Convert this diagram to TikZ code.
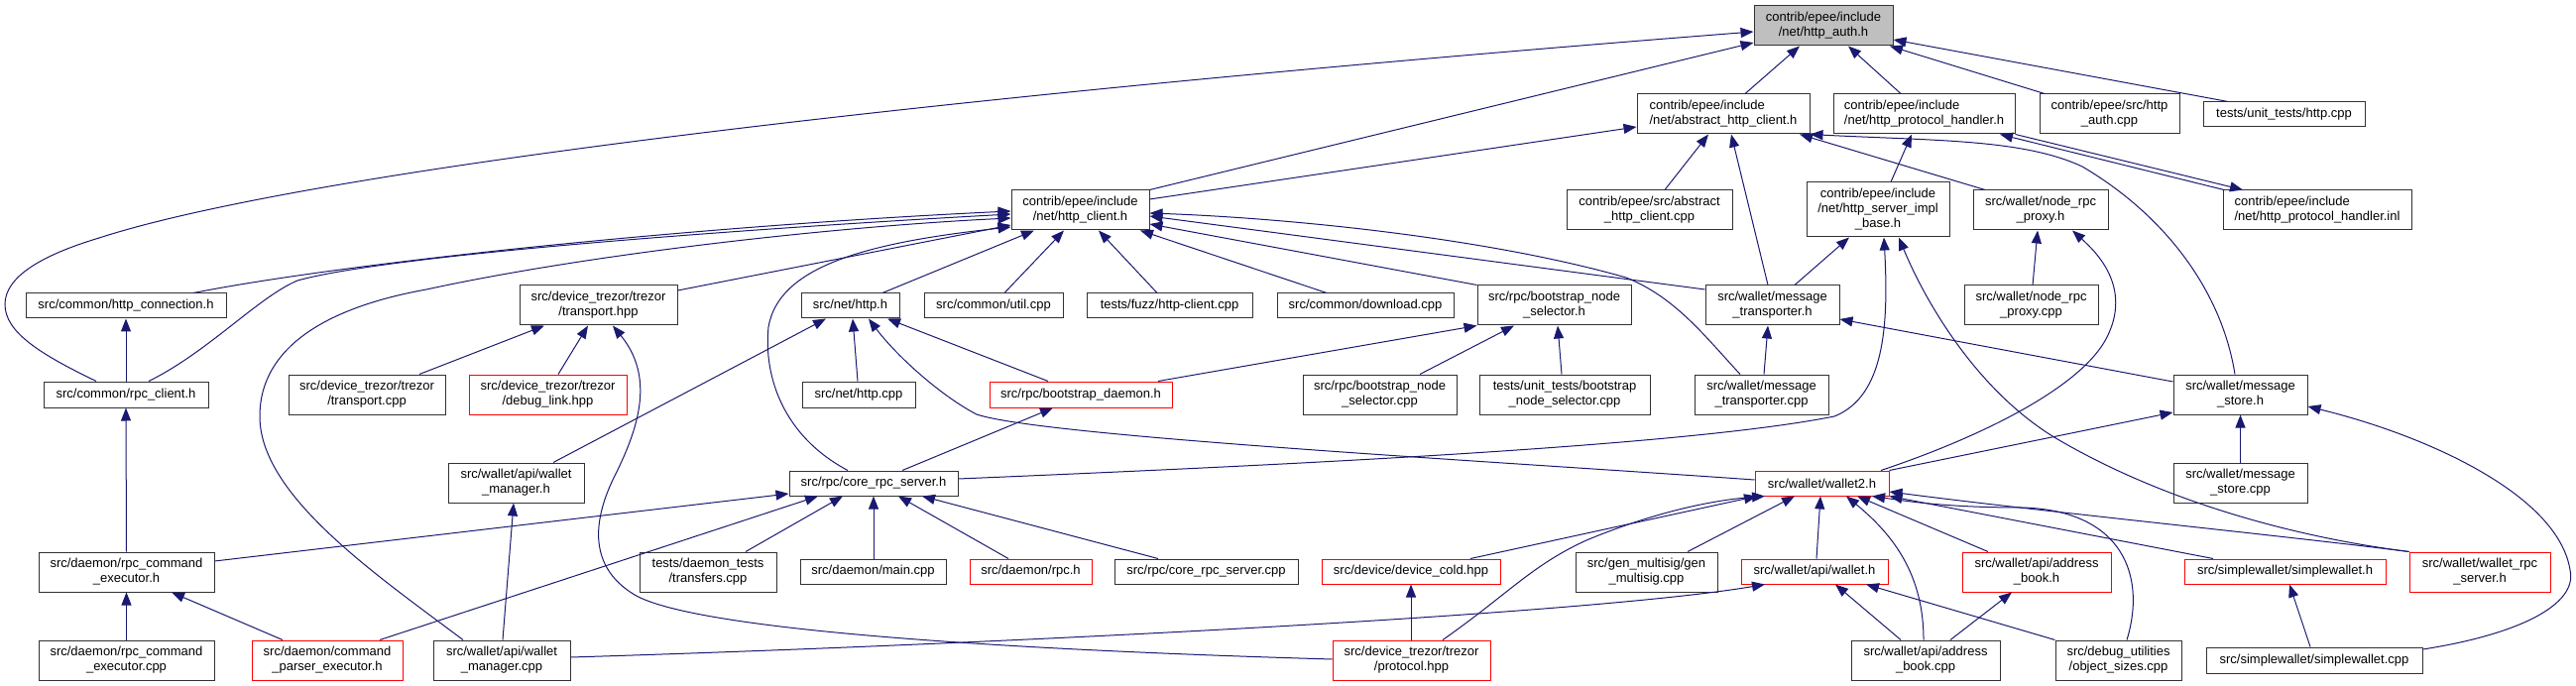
\documentclass[tikz,border=0pt]{standalone}
\usepackage{fontspec}
\setmainfont{Liberation Sans}
\usetikzlibrary{arrows.meta}
\definecolor{edgec}{RGB}{25,25,112}
\definecolor{boxc}{RGB}{50,50,50}
\definecolor{grey75}{RGB}{191,191,191}
\definecolor{redc}{RGB}{255,0,0}
\tikzset{
  box/.style={draw=boxc, fill=white, line width=1pt, rectangle, inner sep=0pt, align=center,
    font=\fontsize{13}{15}\selectfont},
  rbox/.style={box, draw=redc},
  dep/.style={draw=edgec, line width=1pt, -{Triangle[length=13pt,width=10pt]}},
}
\begin{document}
\begin{tikzpicture}[x=1pt,y=-1pt]
\useasboundingbox (0,0) rectangle (2598,692);
% row 0
\node[box, fill=grey75, minimum width=140pt, minimum height=40pt] (auth) at (1839,26) {contrib/epee/include\\/net/http\_auth.h};
% row 1
\node[box, align=left, minimum width=174pt, minimum height=40pt] (absh) at (1738,115) {contrib/epee/include\\/net/abstract\_http\_client.h};
\node[box, align=left, minimum width=183pt, minimum height=40pt] (phh) at (1940.5,115) {contrib/epee/include\\/net/http\_protocol\_handler.h};
\node[box, minimum width=141pt, minimum height=40pt] (authcpp) at (2127.5,115) {contrib/epee/src/http\\\_auth.cpp};
\node[box, minimum width=163pt, minimum height=25pt] (uthttp) at (2303.5,115.5) {tests/unit\_tests/http.cpp};
% row 2
\node[box, minimum width=139pt, minimum height=40pt] (hc) at (1089.5,212) {contrib/epee/include\\/net/http\_client.h};
\node[box, minimum width=167pt, minimum height=40pt] (abscpp) at (1663.5,212) {contrib/epee/src/abstract\\\_http\_client.cpp};
\node[box, minimum width=144pt, minimum height=55pt] (sib) at (1894,211.5) {contrib/epee/include\\/net/http\_server\_impl\\\_base.h};
\node[box, minimum width=136pt, minimum height=40pt] (nrph) at (2058,212) {src/wallet/node\_rpc\\\_proxy.h};
\node[box, align=left, minimum width=190pt, minimum height=40pt] (inl) at (2337,212) {contrib/epee/include\\/net/http\_protocol\_handler.inl};
% row 3
\node[box, minimum width=202pt, minimum height=25pt] (hconn) at (127,308.5) {src/common/http\_connection.h};
\node[box, minimum width=159pt, minimum height=40pt] (thpp) at (603.5,308) {src/device\_trezor/trezor\\/transport.hpp};
\node[box, minimum width=99pt, minimum height=25pt] (nhttp) at (857.5,308.5) {src/net/http.h};
\node[box, minimum width=140pt, minimum height=25pt] (util) at (1002,308.5) {src/common/util.cpp};
\node[box, minimum width=167pt, minimum height=25pt] (fuzz) at (1179.5,308.5) {tests/fuzz/http-client.cpp};
\node[box, minimum width=178pt, minimum height=25pt] (dl) at (1377,308.5) {src/common/download.cpp};
\node[box, minimum width=155pt, minimum height=40pt] (bnsh) at (1567.5,308) {src/rpc/bootstrap\_node\\\_selector.h};
\node[box, minimum width=135pt, minimum height=40pt] (mth) at (1787.5,308) {src/wallet/message\\\_transporter.h};
\node[box, minimum width=135pt, minimum height=40pt] (nrpcpp) at (2048.5,308) {src/wallet/node\_rpc\\\_proxy.cpp};
% row 4
\node[box, minimum width=166pt, minimum height=26pt] (rpcc) at (127,398) {src/common/rpc\_client.h};
\node[box, minimum width=158pt, minimum height=40pt] (tcpp) at (370,398) {src/device\_trezor/trezor\\/transport.cpp};
\node[rbox, minimum width=159pt, minimum height=40pt] (dbg) at (552.5,398) {src/device\_trezor/trezor\\/debug\_link.hpp};
\node[box, minimum width=114pt, minimum height=26pt] (httpcpp) at (866,398) {src/net/http.cpp};
\node[rbox, minimum width=184pt, minimum height=26pt] (bd) at (1090,398) {src/rpc/bootstrap\_daemon.h};
\node[box, minimum width=155pt, minimum height=40pt] (bnscpp) at (1391.5,398) {src/rpc/bootstrap\_node\\\_selector.cpp};
\node[box, minimum width=172pt, minimum height=40pt] (utbns) at (1578,398) {tests/unit\_tests/bootstrap\\\_node\_selector.cpp};
\node[box, minimum width=135pt, minimum height=40pt] (mtcpp) at (1776.5,398) {src/wallet/message\\\_transporter.cpp};
\node[box, minimum width=135pt, minimum height=40pt] (msh) at (2259.5,398) {src/wallet/message\\\_store.h};
% row 5
\node[box, minimum width=137pt, minimum height=40pt] (wmh) at (520.5,487) {src/wallet/api/wallet\\\_manager.h};
\node[box, minimum width=170pt, minimum height=25pt] (crsh) at (881,487.5) {src/rpc/core\_rpc\_server.h};
\node[rbox, minimum width=135pt, minimum height=25pt] (w2) at (1837.5,487.5) {src/wallet/wallet2.h};
\node[box, minimum width=135pt, minimum height=40pt] (mscpp) at (2259.5,487) {src/wallet/message\\\_store.cpp};
% row 6
\node[box, minimum width=177pt, minimum height=40pt] (rceh) at (127.5,577) {src/daemon/rpc\_command\\\_executor.h};
\node[box, minimum width=138pt, minimum height=40pt] (transfers) at (714,577) {tests/daemon\_tests\\/transfers.cpp};
\node[box, minimum width=147pt, minimum height=25pt] (main) at (880.5,576.5) {src/daemon/main.cpp};
\node[rbox, minimum width=123pt, minimum height=25pt] (rpch) at (1039.5,576.5) {src/daemon/rpc.h};
\node[box, minimum width=185pt, minimum height=25pt] (crscpp) at (1216.5,576.5) {src/rpc/core\_rpc\_server.cpp};
\node[rbox, minimum width=180pt, minimum height=25pt] (cold) at (1423,576.5) {src/device/device\_cold.hpp};
\node[box, minimum width=143pt, minimum height=40pt] (gms) at (1660.5,577) {src/gen\_multisig/gen\\\_multisig.cpp};
\node[rbox, minimum width=148pt, minimum height=25pt] (wh) at (1830,576.5) {src/wallet/api/wallet.h};
\node[rbox, minimum width=150pt, minimum height=40pt] (abh) at (2054,577) {src/wallet/api/address\\\_book.h};
\node[rbox, minimum width=203pt, minimum height=25pt] (swh) at (2304.5,576.5) {src/simplewallet/simplewallet.h};
\node[rbox, minimum width=142pt, minimum height=40pt] (wrs) at (2501,577) {src/wallet/wallet\_rpc\\\_server.h};
% row 7
\node[box, minimum width=177pt, minimum height=40pt] (rcecpp) at (127.5,666) {src/daemon/rpc\_command\\\_executor.cpp};
\node[rbox, minimum width=152pt, minimum height=40pt] (cpe) at (330,666) {src/daemon/command\\\_parser\_executor.h};
\node[box, minimum width=138pt, minimum height=40pt] (wmcpp) at (506,666) {src/wallet/api/wallet\\\_manager.cpp};
\node[rbox, minimum width=159pt, minimum height=40pt] (proto) at (1423.5,666) {src/device\_trezor/trezor\\/protocol.hpp};
\node[box, minimum width=150pt, minimum height=40pt] (abcpp) at (1942,666) {src/wallet/api/address\\\_book.cpp};
\node[box, minimum width=127pt, minimum height=40pt] (objs) at (2136.5,666) {src/debug\_utilities\\/object\_sizes.cpp};
\node[box, minimum width=218pt, minimum height=26pt] (swcpp) at (2334,666) {src/simplewallet/simplewallet.cpp};

% ---- edges (arrow at the included file) ----
% into http_auth.h
\draw[dep] (absh.north -| 1760,0) -- (auth.south -| 1815,0);
\draw[dep] (phh.north -| 1917,0) -- (auth.south -| 1864,0);
\draw[dep] (authcpp.north -| 2062,0) -- (auth.south -| 1906,0);
\draw[dep] (uthttp.north -| 2247,0) -- (auth.east |- 0,40);
\draw[dep] (hc.north east) -- (auth.west |- 0,43);
\draw[dep] (rpcc.north -| 97,0) .. controls (40,357) and (5,335) .. (5,307) .. controls (5,280) and (40,258) .. (100,240) .. controls (300,175) and (900,100) .. (auth.west |- 0,32);
% into abstract_http_client.h
\draw[dep] (hc.east |- 0,201) -- (absh.west |- 0,128);
\draw[dep] (abscpp.north -| 1679,0) -- (absh.south -| 1723,0);
\draw[dep] (mth.north -| 1783,0) -- (absh.south -| 1746,0);
\draw[dep] (nrph.north -| 2002,0) -- (absh.south -| 1815,0);
\draw[dep] (msh.north -| 2254,0) .. controls (2240,290) and (2180,215) .. (2100,168) .. controls (2040,140) and (1950,142) .. (absh.south east);
% into http_protocol_handler.h / .inl
\draw[dep] (sib.north -| 1907,0) -- (phh.south -| 1928,0);
\draw[dep] (inl.north -| 2243,0) -- (phh.south -| 2017,0);
\draw[dep] (phh.south east) -- (inl.north -| 2262,0);
% into http_client.h
\draw[dep] (hconn.north -| 195,0) .. controls (350,265) and (700,228) .. (hc.west |- 0,213);
\draw[dep] (rpcc.north -| 150,0) .. controls (210,355) and (260,300) .. (300,283) .. controls (400,255) and (800,228) .. (hc.west |- 0,216);
\draw[dep] (wmcpp.north -| 467,0) .. controls (380,580) and (262,500) .. (262,420) .. controls (262,350) and (330,310) .. (430,292) .. controls (600,255) and (850,228) .. (hc.west |- 0,220);
\draw[dep] (thpp.east |- 0,293) -- (hc.west |- 0,227);
\draw[dep] (crsh.north -| 855,0) .. controls (790,440) and (770,380) .. (775,330) .. controls (785,270) and (870,245) .. (hc.west |- 0,229);
\draw[dep] (nhttp.north -| 890,0) -- (hc.south -| 1043,0);
\draw[dep] (util.north -| 1013,0) -- (hc.south -| 1073,0);
\draw[dep] (fuzz.north -| 1167,0) -- (hc.south -| 1108,0);
\draw[dep] (dl.north -| 1338,0) -- (hc.south -| 1150,0);
\draw[dep] (bnsh.north west) -- (hc.east |- 0,226);
\draw[dep] (mth.west |- 0,292) -- (hc.east |- 0,218);
\draw[dep] (mtcpp.north -| 1755,0) .. controls (1720,340) and (1690,300) .. (1640,280) .. controls (1500,240) and (1300,220) .. (hc.east |- 0,215);
% into http_server_impl_base.h
\draw[dep] (mth.north -| 1810,0) -- (sib.south -| 1865,0);
\draw[dep] (crsh.east |- 0,483) .. controls (1300,469) and (1700,450) .. (1850,420) .. controls (1900,400) and (1905,330) .. (sib.south -| 1900,0);
\draw[dep] (wrs.north west) .. controls (2300,540) and (2170,500) .. (2070,440) .. controls (1990,390) and (1940,300) .. (sib.south -| 1915,0);
% into node_rpc_proxy.h
\draw[dep] (nrpcpp.north -| 2050,0) -- (nrph.south -| 2055,0);
\draw[dep] (w2.north -| 1897,0) .. controls (2000,440) and (2100,390) .. (2125,340) .. controls (2150,290) and (2115,255) .. (nrph.south -| 2090,0);
% into http_connection.h
\draw[dep] (rpcc.north) -- (hconn.south);
% into transport.hpp
\draw[dep] (tcpp.north -| 423,0) -- (thpp.south -| 549,0);
\draw[dep] (dbg.north -| 563,0) -- (thpp.south -| 593,0);
\draw[dep] (proto.west |- 0,665) .. controls (1000,655) and (700,635) .. (640,600) .. controls (590,570) and (600,520) .. (620,480) .. controls (645,430) and (660,380) .. (thpp.south -| 618,0);
% into net/http.h
\draw[dep] (httpcpp.north -| 865,0) -- (nhttp.south -| 860,0);
\draw[dep] (wmh.north -| 558,0) -- (nhttp.south -| 833,0);
\draw[dep] (bd.north -| 1057,0) -- (nhttp.south -| 895,0);
\draw[dep] (w2.west |- 0,484) .. controls (1500,465) and (1050,440) .. (985,418) .. controls (950,400) and (905,360) .. (nhttp.south -| 876,0);
% into bootstrap_node_selector.h
\draw[dep] (bd.north -| 1168,0) -- (bnsh.south west);
\draw[dep] (bnscpp.north -| 1432,0) -- (bnsh.south -| 1527,0);
\draw[dep] (utbns.north -| 1575,0) -- (bnsh.south -| 1571,0);
% into message_transporter.h
\draw[dep] (mtcpp.north -| 1779,0) -- (mth.south -| 1783,0);
\draw[dep] (msh.west |- 0,385) -- (mth.east |- 0,322);
% into message_store.h
\draw[dep] (mscpp.north) -- (msh.south);
\draw[dep] (w2.north east) -- (msh.west |- 0,416);
\draw[dep] (swcpp.east |- 0,655) .. controls (2540,640) and (2600,610) .. (2592,575) .. controls (2580,500) and (2450,440) .. (msh.east |- 0,410);
% into rpc_client.h
\draw[dep] (rceh.north) -- (rpcc.south);
% into bootstrap_daemon.h
\draw[dep] (crsh.north -| 910,0) -- (bd.south -| 1062,0);
% into wallet_manager.h
\draw[dep] (wmcpp.north -| 507,0) -- (wmh.south -| 518,0);
% into core_rpc_server.h
\draw[dep] (rceh.east |- 0,566) -- (crsh.west |- 0,498);
\draw[dep] (cpe.north -| 383,0) -- (crsh.south -| 825,0);
\draw[dep] (transfers.north -| 752,0) -- (crsh.south -| 850,0);
\draw[dep] (main.north -| 881,0) -- (crsh.south -| 881,0);
\draw[dep] (rpch.north -| 1017,0) -- (crsh.south -| 906,0);
\draw[dep] (crscpp.north -| 1168,0) -- (crsh.south -| 930,0);
% into wallet2.h
\draw[dep] (cold.north -| 1483,0) -- (w2.south -| 1772,0);
\draw[dep] (proto.north -| 1455,0) .. controls (1520,600) and (1545,570) .. (1600,545) .. controls (1660,520) and (1720,505) .. (w2.south -| 1780,0);
\draw[dep] (gms.north -| 1702,0) -- (w2.south -| 1810,0);
\draw[dep] (wh.north -| 1832,0) -- (w2.south -| 1836,0);
\draw[dep] (abcpp.north -| 1940,0) .. controls (1940,580) and (1910,540) .. (w2.south -| 1862,0);
\draw[dep] (abh.north -| 2005,0) -- (w2.south -| 1873,0);
\draw[dep] (objs.north -| 2145,0) .. controls (2165,580) and (2140,515) .. (2040,512) .. controls (1960,512) and (1920,505) .. (w2.south -| 1888,0);
\draw[dep] (swh.north -| 2232,0) -- (w2.south east);
\draw[dep] (wrs.north west) .. controls (2300,540) and (2050,515) .. (w2.east |- 0,496);
% into rpc_command_executor.h
\draw[dep] (rcecpp.north) -- (rceh.south);
\draw[dep] (cpe.north -| 285,0) -- (rceh.south -| 173,0);
% into device_cold.hpp
\draw[dep] (proto.north -| 1423,0) -- (cold.south -| 1423,0);
% into wallet/api/wallet.h
\draw[dep] (wmcpp.east |- 0,663) .. controls (1000,650) and (1600,620) .. (wh.south -| 1780,0);
\draw[dep] (abcpp.north -| 1917,0) -- (wh.south -| 1851,0);
\draw[dep] (objs.north west) -- (wh.south -| 1882,0);
% into address_book.h
\draw[dep] (abcpp.north -| 1967,0) -- (abh.south -| 2029,0);
% into simplewallet.h
\draw[dep] (swcpp.north -| 2330,0) -- (swh.south -| 2309,0);
\end{tikzpicture}
\end{document}
